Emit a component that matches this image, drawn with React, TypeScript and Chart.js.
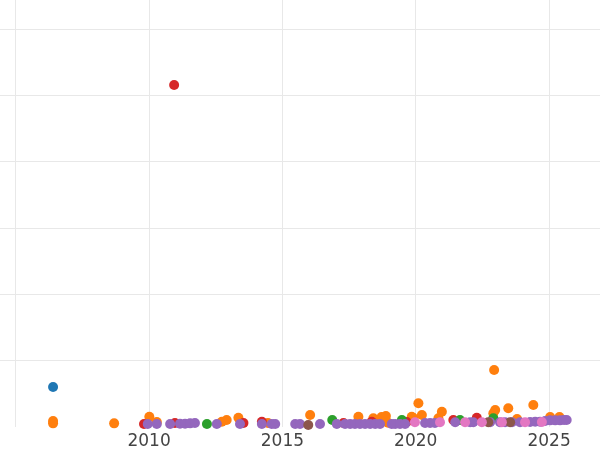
import React, { useEffect, useRef } from "react";
import { Chart, registerables } from "chart.js";

Chart.register(...registerables);

// x = year, y = value (grid step 1000)
const blueSeries = [[2006.40, 603]];
const redSeries = [
  [2009.81, 45], [2010.94, 5158], [2010.97, 60], [2013.54, 60], [2014.23, 80],
  [2017.29, 60], [2018.35, 80], [2019.66, 75], [2021.41, 106], [2022.29, 140],
];
const orangeSeries = [
  [2006.40, 90], [2006.40, 55], [2008.69, 55], [2010.01, 155], [2010.29, 75],
  [2012.73, 80], [2012.91, 106], [2013.35, 140], [2014.46, 60], [2016.04, 181],
  [2017.85, 155], [2018.41, 131], [2018.72, 151], [2018.88, 166], [2018.96, 65],
  [2019.85, 155], [2019.91, 136], [2020.10, 357], [2020.23, 181], [2020.85, 131],
  [2020.98, 231], [2022.91, 207], [2022.94, 860], [2022.98, 256], [2023.47, 282],
  [2023.80, 121], [2024.41, 332], [2025.04, 150], [2025.39, 150],
];
const greenSeries = [
  [2012.17, 45], [2016.87, 106], [2019.48, 106], [2021.66, 106], [2022.91, 131],
];
const purpleSeries = [
  [2009.95, 45], [2010.29, 45], [2010.79, 45], [2011.16, 50], [2011.35, 50],
  [2011.54, 55], [2011.72, 60], [2012.54, 45], [2013.41, 45], [2014.23, 45],
  [2014.60, 45], [2014.73, 45], [2015.48, 45], [2015.66, 45], [2016.41, 45],
  [2017.04, 45], [2017.35, 45], [2017.54, 45], [2017.72, 45], [2017.91, 45],
  [2018.10, 45], [2018.29, 45], [2018.48, 45], [2018.66, 45], [2019.10, 45],
  [2019.23, 45], [2019.41, 45], [2019.60, 45], [2020.35, 60], [2020.54, 60],
  [2020.72, 60], [2021.48, 71], [2022.04, 71], [2022.16, 71], [2022.79, 71],
  [2023.16, 71], [2023.35, 71], [2023.61, 71], [2023.91, 71], [2024.29, 75],
  [2024.48, 80], [2024.66, 80], [2024.85, 90], [2025.04, 100], [2025.23, 100],
  [2025.41, 100], [2025.56, 106], [2025.66, 106],
];
const brownSeries = [[2015.97, 30], [2022.72, 71], [2023.54, 71]];
const pinkSeries = [
  [2019.97, 71], [2020.91, 71], [2021.85, 71], [2022.48, 71], [2023.23, 71],
  [2024.10, 71], [2024.73, 75],
];
const xTickValues = [2005, 2010, 2015, 2020, 2025];
const yTickValues = [0, 1000, 2000, 3000, 4000, 5000, 6000];

const toPts = (arr: number[][]) => arr.map(([x, y]) => ({ x, y }));

export default function App() {
  const ref = useRef<HTMLCanvasElement>(null);
  useEffect(() => {
    document.body.style.margin = "0";
    const mk = (label: string, data: number[][], color: string) => ({
      label,
      data: toPts(data),
      backgroundColor: color,
      borderColor: color,
      pointRadius: 5,
      pointBorderWidth: 0,
      clip: false as any,
    });
    const chart = new Chart(ref.current!, {
      type: "scatter",
      data: {
        datasets: [
          mk("pink", pinkSeries, "#e377c2"),
          mk("brown", brownSeries, "#8c564b"),
          mk("purple", purpleSeries, "#9467bd"),
          mk("green", greenSeries, "#2ca02c"),
          mk("red", redSeries, "#d62728"),
          mk("orange", orangeSeries, "#ff7f0e"),
          mk("blue", blueSeries, "#1f77b4"),
        ],
      },
      options: {
        responsive: false,
        animation: false,
        layout: { padding: 0, autoPadding: false },
        plugins: { legend: { display: false }, tooltip: { enabled: false } },
        scales: {
          x: {
            type: "linear",
            min: 2004.41,
            max: 2026.91,
            border: { display: false },
            grid: { color: "#e8e8e8", lineWidth: 1, drawTicks: false },
            afterBuildTicks: (axis: any) => {
              axis.ticks = xTickValues.map((v) => ({ value: v }));
            },
            afterFit: (axis: any) => {
              axis.height = 23;
            },
            ticks: {
              autoSkip: false,
              maxRotation: 0,
              padding: 4,
              color: "#444444",
              font: { family: "DejaVu Sans", size: 17 },
              callback: (v: any) => (v === 2005 ? "" : String(v)),
            },
          },
          y: {
            type: "linear",
            min: 0,
            max: 6440,
            border: { display: false },
            afterBuildTicks: (axis: any) => {
              axis.ticks = yTickValues.map((v) => ({ value: v }));
            },
            grid: {
              color: (ctx: any) => (ctx.tick && ctx.tick.value === 0 ? "rgba(0,0,0,0)" : "#e8e8e8"),
              lineWidth: 1,
              drawTicks: false,
            },
            ticks: { display: false },
          },
        },
      },
    });
    return () => chart.destroy();
  }, []);
  return (
    <div style={{ width: 600, height: 450 }}>
      <canvas ref={ref} width={600} height={450} />
    </div>
  );
}
